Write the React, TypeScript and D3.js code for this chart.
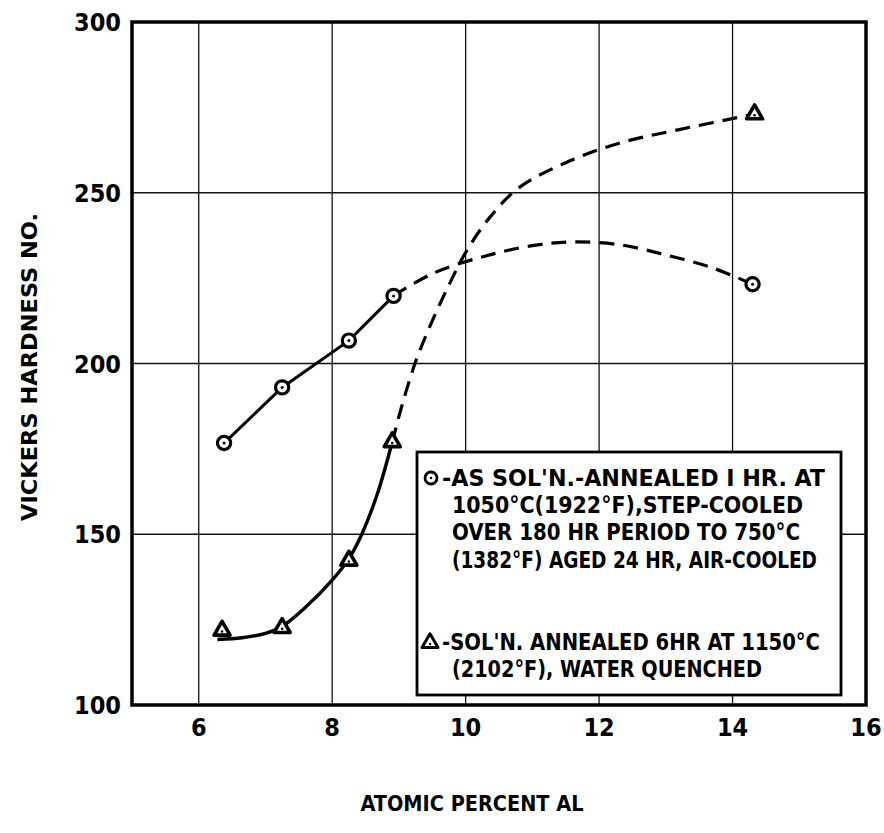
import React from "react";
import * as d3 from "d3";

const W = 884;
const H = 833;

const xTicks = [6, 8, 10, 12, 14, 16];
const yTicks = [100, 150, 200, 250, 300];

// measured points
const circlePts: [number, number][] = [
  [6.38, 176.7],
  [7.25, 193],
  [8.25, 206.7],
  [8.92, 219.8],
  [14.3, 223.2],
];
const trianglePts: [number, number][] = [
  [6.35, 121.8],
  [7.25, 122.6],
  [8.25, 142.3],
  [8.9, 177],
  [14.33, 273],
];

// drawn curves
const circleSolid: [number, number][] = [
  [6.38, 176.7],
  [7.25, 193],
  [8.25, 206.7],
  [8.92, 219.8],
];
const circleDashed: [number, number][] = [
  [8.92, 219.8],
  [9.5, 226.3],
  [10.3, 231.5],
  [11.0, 234.5],
  [11.6, 235.6],
  [12.3, 234.8],
  [13.0, 231.8],
  [13.7, 228],
  [14.3, 223.2],
];
const triSolid: [number, number][] = [
  [6.28, 119.2],
  [6.65, 119.7],
  [7.0, 121.0],
  [7.25, 123.0],
  [7.6, 128.6],
  [8.0, 136.6],
  [8.25, 142.8],
  [8.45, 150.3],
  [8.68, 162],
  [8.9, 177],
];
const triDashed: [number, number][] = [
  [8.9, 177],
  [9.05, 188],
  [9.25, 200.5],
  [9.5, 212.5],
  [9.75, 223],
  [10.0, 232.5],
  [10.35, 242.5],
  [10.8, 251.5],
  [11.5, 258.8],
  [12.3, 264.5],
  [13.2, 268.5],
  [14.33, 273],
];

const legend1 = [
  "-AS  SOL'N.-ANNEALED  I HR. AT",
  "1050°C(1922°F),STEP-COOLED",
  "OVER 180 HR PERIOD  TO 750°C",
  "(1382°F) AGED 24 HR, AIR-COOLED",
];
const legend2 = ["-SOL'N. ANNEALED 6HR AT 1150°C", "(2102°F), WATER QUENCHED"];

const FONT = "'DejaVu Sans Condensed', 'Liberation Sans Narrow', 'DejaVu Sans', sans-serif";

export default function App() {
  const left = 132,
    right = 866,
    top = 22,
    bottom = 705;
  const x = d3.scaleLinear().domain([5, 16]).range([left, right]);
  const y = d3.scaleLinear().domain([100, 300]).range([bottom, top]);

  const smoothGen = d3
    .line<[number, number]>()
    .x((d) => x(d[0]))
    .y((d) => y(d[1]))
    .curve(d3.curveCatmullRom.alpha(0.5));
  const straightGen = d3
    .line<[number, number]>()
    .x((d) => x(d[0]))
    .y((d) => y(d[1]))
    .curve(d3.curveLinear);

  const triPath = (cx: number, cy: number, s: number) => {
    const h = (s * Math.sqrt(3)) / 2;
    return `M${cx},${cy - (2 * h) / 3} L${cx + s / 2},${cy + h / 3} L${cx - s / 2},${cy + h / 3} Z`;
  };

  const legendX = 417,
    legendY = 452,
    legendW = 424,
    legendH = 243;

  const l1Widths = [373, 351, 348, 365];
  const l1Base = [486, 513, 540, 568];
  const l1X = [442, 452, 452, 452];
  const l2Widths = [368, 310];
  const l2Base = [650, 677];
  const l2X = [442, 452];

  return (
    <svg
      width={W}
      height={H}
      style={{ position: "absolute", left: 0, top: 0, background: "#fff" }}
    >
      <rect x={0} y={0} width={W} height={H} fill="#fff" />
      {/* grid */}
      {[6, 8, 10, 12, 14].map((v) => (
        <line key={"gx" + v} x1={x(v)} x2={x(v)} y1={top} y2={bottom} stroke="#111" strokeWidth={1.3} />
      ))}
      {[150, 200, 250].map((v) => (
        <line key={"gy" + v} x1={left} x2={right} y1={y(v)} y2={y(v)} stroke="#111" strokeWidth={1.3} />
      ))}
      {/* frame */}
      <rect x={left} y={top} width={right - left} height={bottom - top} fill="none" stroke="#000" strokeWidth={3.5} />

      {/* curves */}
      <path d={straightGen(circleSolid) || ""} fill="none" stroke="#000" strokeWidth={3} />
      <path d={smoothGen(circleDashed) || ""} fill="none" stroke="#000" strokeWidth={3.2} strokeDasharray="15 9" />
      <path d={smoothGen(triSolid) || ""} fill="none" stroke="#000" strokeWidth={3.4} />
      <path d={smoothGen(triDashed) || ""} fill="none" stroke="#000" strokeWidth={3.2} strokeDasharray="15 9" />

      {/* markers */}
      {circlePts.map((p, i) => (
        <g key={"c" + i}>
          <circle cx={x(p[0])} cy={y(p[1])} r={6.6} fill="#fff" stroke="#000" strokeWidth={3.2} />
          <circle cx={x(p[0])} cy={y(p[1])} r={1.5} fill="#000" />
        </g>
      ))}
      {trianglePts.map((p, i) => (
        <g key={"t" + i}>
          <path d={triPath(x(p[0]), y(p[1]), 16)} fill="#fff" stroke="#000" strokeWidth={3.6} strokeLinejoin="round" />
          <circle cx={x(p[0])} cy={y(p[1]) + 1} r={1.3} fill="#000" />
        </g>
      ))}

      {/* legend */}
      <rect x={legendX} y={legendY} width={legendW} height={legendH} fill="#fff" stroke="#000" strokeWidth={2.8} />
      <circle cx={431} cy={478} r={6} fill="#fff" stroke="#000" strokeWidth={2.8} />
      <circle cx={431} cy={478} r={1.3} fill="#000" />
      {legend1.map((t, i) => (
        <text
          key={"l1" + i}
          x={l1X[i]}
          y={l1Base[i]}
          fontFamily={FONT}
          fontWeight="bold"
          fontSize={23}
          textLength={l1Widths[i] - (l1X[i] - 452)}
          lengthAdjust="spacingAndGlyphs"
          fill="#000"
        >
          {t}
        </text>
      ))}
      <path d={triPath(430, 643, 16)} fill="#fff" stroke="#000" strokeWidth={3} strokeLinejoin="round" />
      <circle cx={430} cy={644} r={1.2} fill="#000" />
      {legend2.map((t, i) => (
        <text
          key={"l2" + i}
          x={l2X[i]}
          y={l2Base[i]}
          fontFamily={FONT}
          fontWeight="bold"
          fontSize={23}
          textLength={l2Widths[i] - (l2X[i] - 452)}
          lengthAdjust="spacingAndGlyphs"
          fill="#000"
        >
          {t}
        </text>
      ))}

      {/* tick labels */}
      {yTicks.map((v) => (
        <text
          key={"yt" + v}
          x={121}
          y={y(v) + 9}
          textAnchor="end"
          fontFamily={FONT}
          fontWeight="bold"
          fontSize={25}
          fill="#000"
        >
          {v}
        </text>
      ))}
      {xTicks.map((v) => (
        <text
          key={"xt" + v}
          x={x(v)}
          y={736}
          textAnchor="middle"
          fontFamily={FONT}
          fontWeight="bold"
          fontSize={25}
          fill="#000"
        >
          {v}
        </text>
      ))}

      {/* axis titles */}
      <text
        x={472}
        y={811}
        textAnchor="middle"
        fontFamily={FONT}
        fontWeight="bold"
        fontSize={21}
        textLength={223}
        lengthAdjust="spacingAndGlyphs"
        fill="#000"
      >
        ATOMIC  PERCENT  AL
      </text>
      <text
        transform="translate(37,367) rotate(-90)"
        textAnchor="middle"
        fontFamily={FONT}
        fontWeight="bold"
        fontSize={21}
        textLength={308}
        lengthAdjust="spacingAndGlyphs"
        fill="#000"
      >
        VICKERS  HARDNESS  NO.
      </text>
    </svg>
  );
}
